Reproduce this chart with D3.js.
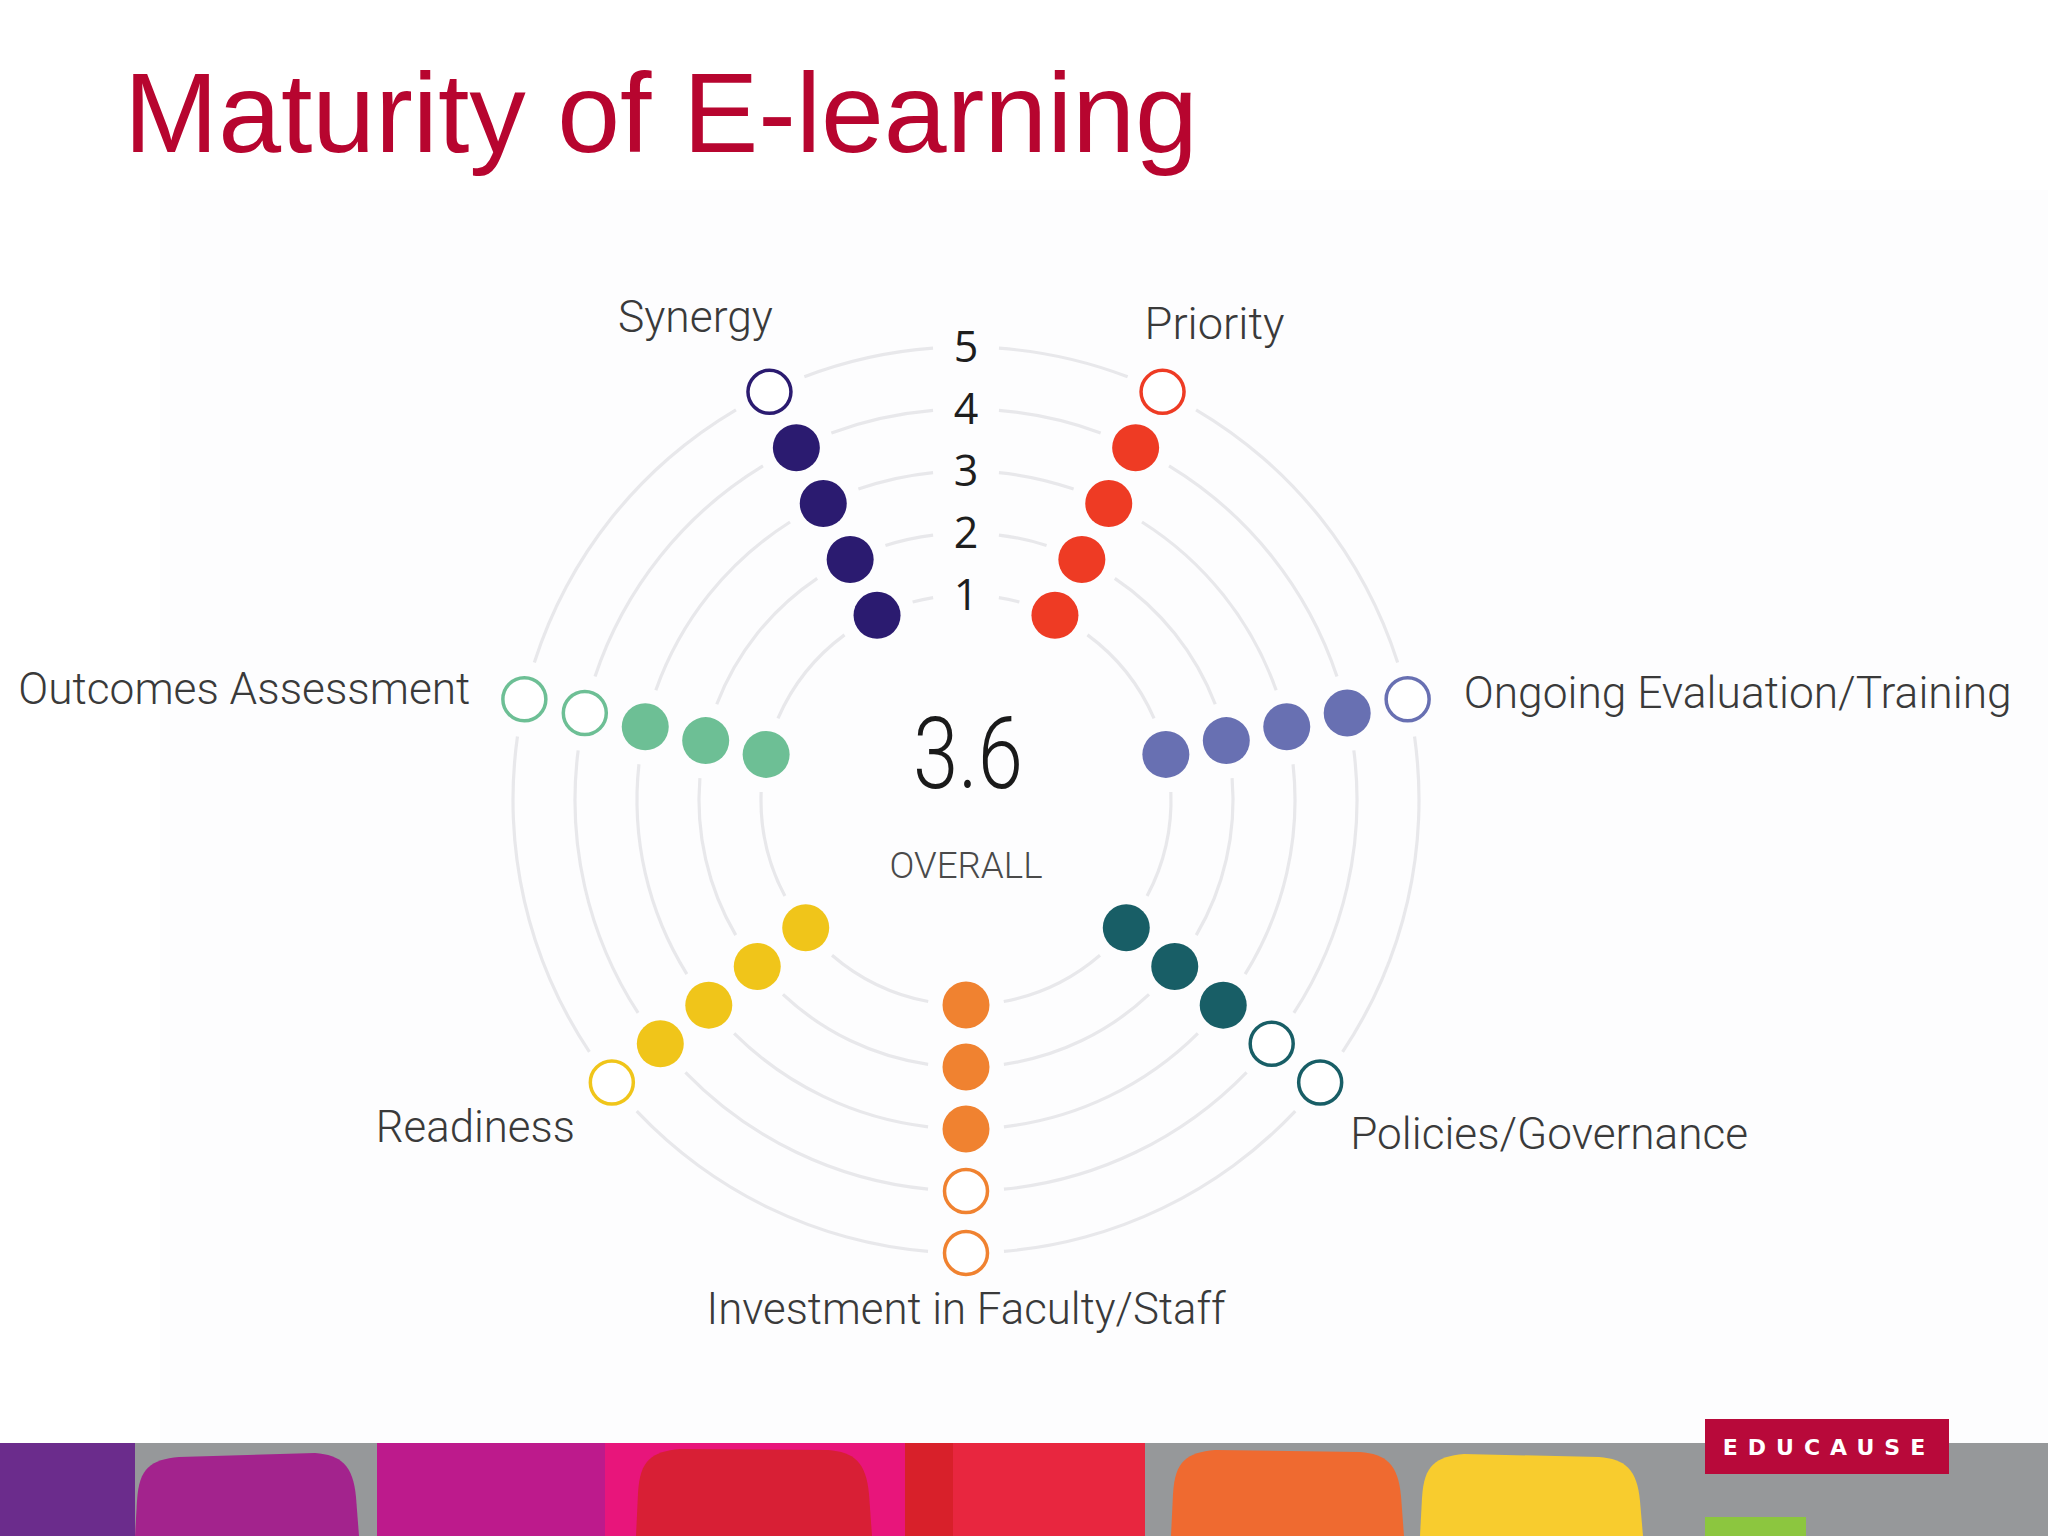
<!DOCTYPE html>
<html><head><meta charset="utf-8">
<script src="https://cdn.jsdelivr.net/npm/d3@7"></script>
<style>
html,body{margin:0;padding:0;background:#fff;}
svg{display:block;}
</style></head>
<body>
<svg id="chart" width="2048" height="1536"></svg>
<script>
// ---- data ----
const title = "Maturity of E-learning";
const categories = ["Synergy","Priority","Ongoing Evaluation/Training","Policies/Governance","Investment in Faculty/Staff","Readiness","Outcomes Assessment"];
const scores = [4,4,4,3,3,4,3];
const levels = [1,2,3,4,5];
const levelLabels = ["1","2","3","4","5"];
const overall = "3.6";
const overallLabel = "OVERALL";
const colors = ["#2b1b70","#ee3b24","#6870b2","#185e66","#f08230","#f0c51a","#6dbf95"];

// ---- layout ----
const svg = d3.select("#chart");
const cx = 966, cy = 800;
const rScale = d3.scaleLinear().domain([1,5]).range([205,453]);
const aScale = d3.scaleLinear().domain([0,categories.length]).range([-Math.PI/7, 2*Math.PI-Math.PI/7]);
const angleOf = i => aScale(i);
const px = (a,r) => cx + r*Math.sin(a);
const py = (a,r) => cy - r*Math.cos(a);

svg.append("rect").attr("x",160).attr("y",190).attr("width",1888).attr("height",1253).attr("fill","#fdfdfe");

svg.append("text").attr("x",124).attr("y",152)
  .attr("font-family","'Liberation Sans', Arial, sans-serif").attr("font-size",113)
  .attr("fill","#b7052f").text(title);

const g = svg.append("g");

const axisGap = 38, labelGap = 33;
const arcGen = d3.arc();
levels.forEach(lv => {
  const r = rScale(lv);
  const breaks = categories.map((c,i)=>({a:angleOf(i), gap:axisGap}));
  breaks.push({a:0, gap:labelGap});
  breaks.forEach(b=>{ b.a = ((b.a % (2*Math.PI)) + 2*Math.PI) % (2*Math.PI); });
  breaks.sort((p,q)=>p.a-q.a);
  for (let k=0;k<breaks.length;k++){
    const b0 = breaks[k], b1 = breaks[(k+1)%breaks.length];
    let a0 = b0.a + b0.gap/r;
    let a1 = b1.a - b1.gap/r;
    if (k === breaks.length-1) a1 += 2*Math.PI;
    if (a1 <= a0) continue;
    g.append("path")
      .attr("transform",`translate(${cx},${cy})`)
      .attr("d", arcGen({innerRadius:r-1.6, outerRadius:r+1.6, startAngle:a0, endAngle:a1}))
      .attr("fill","#e8e8eb");
  }
});

g.selectAll("text.lvl").data(levels).join("text")
  .attr("class","lvl")
  .attr("x",cx).attr("y",d=>cy-rScale(d))
  .attr("dy","0.34em")
  .attr("text-anchor","middle")
  .attr("font-family","'Open Sans', 'Noto Sans', sans-serif").attr("font-size",43)
  .attr("fill","#1e1e1e").text((d,i)=>levelLabels[i]);

const dots = [];
categories.forEach((c,i)=>levels.forEach(lv=>dots.push({i, lv, filled: lv<=scores[i]})));
g.selectAll("circle.dot").data(dots).join("circle")
  .attr("class","dot")
  .attr("cx",d=>px(angleOf(d.i), rScale(d.lv)))
  .attr("cy",d=>py(angleOf(d.i), rScale(d.lv)))
  .attr("r",d=>d.filled?23.5:21.5)
  .attr("fill",d=>d.filled?colors[d.i]:"#fff")
  .attr("stroke",d=>d.filled?"none":colors[d.i])
  .attr("stroke-width",3.5);

const labelFont = "Roboto, 'Open Sans', sans-serif";
const labelLayout = [
  {dx:-74, dy:-60, anchor:"middle", w:155},
  {dx:52,  dy:-53, anchor:"middle", w:140},
  {dx:56,  dy:9,   anchor:"start",  w:548},
  {dx:30,  dy:67,  anchor:"start",  w:398},
  {dx:0,   dy:71,  anchor:"middle", w:519},
  {dx:-37, dy:60,  anchor:"end",    w:199},
  {dx:-54, dy:5,   anchor:"end",    w:452}
];
g.selectAll("text.cat").data(categories).join("text")
  .attr("class","cat")
  .attr("x",(d,i)=>px(angleOf(i), rScale(5)) + labelLayout[i].dx)
  .attr("y",(d,i)=>py(angleOf(i), rScale(5)) + labelLayout[i].dy)
  .attr("text-anchor",(d,i)=>labelLayout[i].anchor)
  .attr("textLength",(d,i)=>labelLayout[i].w)
  .attr("lengthAdjust","spacingAndGlyphs")
  .attr("font-family",labelFont).attr("font-weight",300).attr("font-size",44)
  .attr("fill","#3a3a3a").text(d=>d);

g.append("text").attr("x",cx+2).attr("y",788).attr("text-anchor","middle")
  .attr("font-family",labelFont).attr("font-weight",300).attr("font-size",100)
  .attr("textLength",110).attr("lengthAdjust","spacingAndGlyphs")
  .attr("fill","#1a1a1a").text(overall);
g.append("text").attr("x",cx).attr("y",878).attr("text-anchor","middle")
  .attr("font-family",labelFont).attr("font-weight",300).attr("font-size",37)
  .attr("textLength",153).attr("lengthAdjust","spacingAndGlyphs")
  .attr("fill","#4a4a4a").text(overallLabel);

// ---- footer band ----
const f = svg.append("g");
const bandTop = 1443, bandBot = 1536;
f.append("rect").attr("x",0).attr("y",bandTop).attr("width",2048).attr("height",bandBot-bandTop).attr("fill","#96989a");
function tomb(x0,x1,yl,yr,color){
  const p = d3.path();
  p.moveTo(x0, bandBot);
  p.lineTo(x0+2, yl+44);
  p.bezierCurveTo(x0+4, yl+10, x0+16, yl+3, x0+44, yl);
  p.lineTo(x1-44, yr);
  p.bezierCurveTo(x1-18, yr+2, x1-6, yr+12, x1-3, yr+44);
  p.lineTo(x1, bandBot);
  p.closePath();
  f.append("path").attr("d",p.toString()).attr("fill",color);
}
f.append("rect").attr("x",0).attr("y",bandTop).attr("width",135).attr("height",bandBot-bandTop).attr("fill","#6b2c8c");
tomb(135,359,1457,1453,"#a3238d");
f.append("rect").attr("x",377).attr("y",bandTop).attr("width",228).attr("height",bandBot-bandTop).attr("fill","#bd1a8c");
f.append("rect").attr("x",605).attr("y",bandTop).attr("width",309).attr("height",bandBot-bandTop).attr("fill","#e8157b");
tomb(636,872,1449,1450,"#d81f35");
f.append("rect").attr("x",905).attr("y",bandTop).attr("width",240).attr("height",bandBot-bandTop).attr("fill","#e8263f");
f.append("rect").attr("x",905).attr("y",bandTop).attr("width",48).attr("height",bandBot-bandTop).attr("fill","#d8202a");
tomb(1171,1404,1450,1452,"#ef6a30");
tomb(1420,1643,1454,1457,"#f8cc2e");
f.append("rect").attr("x",1705).attr("y",1517).attr("width",101).attr("height",19).attr("fill","#8cc63f");
f.append("rect").attr("x",1705).attr("y",1419).attr("width",244).attr("height",55).attr("fill","#b8093a");
f.append("text").attr("x",1829).attr("y",1455).attr("text-anchor","middle")
  .attr("font-family","'DejaVu Sans', sans-serif").attr("font-weight",700).attr("font-size",22)
  .attr("letter-spacing",10).attr("fill","#fff").text("EDUCAUSE");
</script>
</body></html>
